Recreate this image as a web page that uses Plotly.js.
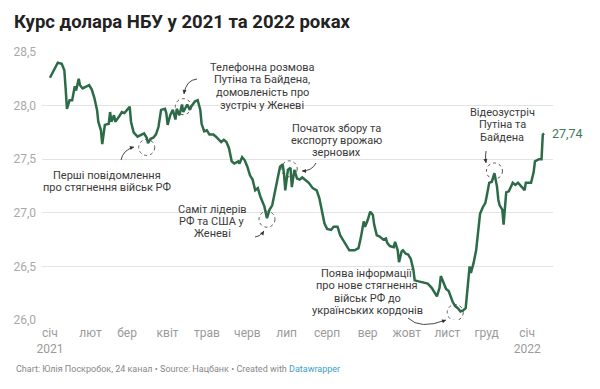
<!DOCTYPE html>
<html><head><meta charset="utf-8">
<script src="https://cdn.plot.ly/plotly-3.0.1.min.js"></script>
<style>html,body{margin:0;padding:0;background:#fff}#chart{width:600px;height:389px}</style>
</head><body><div id="chart"></div>
<script>
const dates = ['2021-01-01','2021-01-07','2021-01-10','2021-01-12','2021-01-13','2021-01-14','2021-01-16','2021-01-18','2021-01-20','2021-01-21','2021-01-23','2021-01-24','2021-01-26','2021-01-29','2021-01-31',
'2021-02-02','2021-02-04','2021-02-06','2021-02-07','2021-02-09','2021-02-10','2021-02-12','2021-02-15','2021-02-16','2021-02-17','2021-02-19','2021-02-20','2021-02-23','2021-02-25','2021-02-27',
'2021-03-01','2021-03-03','2021-03-04','2021-03-06','2021-03-09','2021-03-11','2021-03-14','2021-03-16','2021-03-17','2021-03-19','2021-03-21','2021-03-23','2021-03-25','2021-03-27','2021-03-30','2021-03-31',
'2021-04-01','2021-04-03','2021-04-05','2021-04-07','2021-04-08','2021-04-10','2021-04-12','2021-04-13','2021-04-16','2021-04-18','2021-04-19','2021-04-22','2021-04-24','2021-04-26','2021-04-27','2021-04-29',
'2021-05-01','2021-05-03','2021-05-06','2021-05-08','2021-05-10','2021-05-12','2021-05-14','2021-05-16','2021-05-18','2021-05-20','2021-05-22','2021-05-25','2021-05-26','2021-05-28','2021-05-30',
'2021-06-01','2021-06-03','2021-06-05','2021-06-07','2021-06-09','2021-06-11','2021-06-12','2021-06-14','2021-06-16','2021-06-18','2021-06-20','2021-06-22','2021-06-24','2021-06-26','2021-06-28','2021-06-29','2021-06-30',
'2021-07-02','2021-07-04','2021-07-05','2021-07-07','2021-07-09','2021-07-11','2021-07-13','2021-07-15','2021-07-18','2021-07-21','2021-07-24','2021-07-26','2021-07-28','2021-07-30',
'2021-08-01','2021-08-04','2021-08-06','2021-08-09','2021-08-11','2021-08-13','2021-08-16','2021-08-18','2021-08-22','2021-08-25','2021-08-27','2021-08-29','2021-08-30',
'2021-09-01','2021-09-03','2021-09-05','2021-09-06','2021-09-08','2021-09-10','2021-09-13','2021-09-15','2021-09-16','2021-09-18','2021-09-21','2021-09-22','2021-09-24','2021-09-25','2021-09-27','2021-09-28','2021-09-30',
'2021-10-02','2021-10-04','2021-10-06','2021-10-07','2021-10-10','2021-10-14','2021-10-17','2021-10-20','2021-10-23','2021-10-24','2021-10-26','2021-10-27','2021-10-29','2021-10-31',
'2021-11-02','2021-11-03','2021-11-05','2021-11-07','2021-11-09','2021-11-11','2021-11-13','2021-11-15','2021-11-16','2021-11-17','2021-11-18','2021-11-19','2021-11-21','2021-11-23','2021-11-25','2021-11-26','2021-11-28','2021-11-30',
'2021-12-01','2021-12-03','2021-12-05','2021-12-06','2021-12-07','2021-12-09','2021-12-10','2021-12-11','2021-12-13','2021-12-14','2021-12-15','2021-12-16','2021-12-18','2021-12-19','2021-12-21','2021-12-23','2021-12-25','2021-12-28','2021-12-30','2021-12-31',
'2022-01-04','2022-01-06','2022-01-07','2022-01-10','2022-01-12','2022-01-13','2022-01-14'];
const rates = [28.26,28.40,28.39,28.33,28.16,27.97,28.05,28.05,28.18,28.14,28.25,28.19,28.16,28.18,28.19,
28.15,28.07,27.96,27.85,27.77,27.64,27.82,27.83,27.94,27.85,27.91,27.85,27.90,27.94,27.93,
27.96,27.99,27.85,27.75,27.71,27.72,27.74,27.70,27.65,27.69,27.70,27.73,27.80,27.96,27.97,27.93,
27.82,27.91,27.96,27.87,27.97,27.91,28.01,27.94,28.01,27.96,27.99,28.04,28.05,27.96,27.83,27.76,
27.77,27.73,27.73,27.71,27.68,27.66,27.68,27.66,27.60,27.48,27.46,27.48,27.46,27.52,27.49,
27.43,27.35,27.31,27.21,27.23,27.15,27.12,27.06,26.95,27.03,27.07,27.21,27.31,27.43,27.45,27.37,27.21,
27.40,27.42,27.24,27.40,27.32,27.31,27.33,27.31,27.28,27.23,27.21,27.14,27.00,26.90,
26.85,26.84,26.87,26.87,26.79,26.75,26.70,26.65,26.65,26.67,26.78,26.92,26.87,
26.93,27.01,26.98,26.89,26.79,26.78,26.75,26.76,26.72,26.69,26.68,26.73,26.65,26.54,26.64,26.65,26.62,
26.61,26.57,26.47,26.37,26.36,26.35,26.34,26.30,26.24,26.22,26.30,26.41,26.35,26.29,
26.27,26.24,26.17,26.13,26.11,26.08,26.09,26.11,26.27,26.39,26.50,26.44,26.53,26.65,26.84,26.99,27.05,27.09,
27.15,27.28,27.29,27.34,27.37,27.24,27.12,27.07,27.03,26.89,27.06,27.19,27.20,27.23,27.28,27.26,27.28,27.24,27.21,27.28,
27.28,27.38,27.48,27.50,27.50,27.73,27.74];

const monthTicks = ['2021-01-01','2021-02-01','2021-03-01','2021-04-01','2021-05-01','2021-06-01','2021-07-01','2021-08-01','2021-09-01','2021-10-01','2021-11-01','2021-12-01','2022-01-01'];
const monthLabels = ['січ<br>2021','лют','бер','квіт','трав','черв','лип','серп','вер','жовт','лист','груд','січ<br>2022'];
const yTicks = [26.0,26.5,27.0,27.5,28.0,28.5];
const yLabels = ['26,0','26,5','27,0','27,5','28,0','28,5'];
const lastLabel = '27,74';

const titleText = 'Курс долара НБУ у 2021 та 2022 роках';
const footerText = 'Chart: Юлія Поскробок, 24 канал • Source: Нацбанк • Created with ';
const footerLink = 'Datawrapper';

const events = [
  {lines:['Перші повідомлення','про стягнення військ РФ'], cx:107, cy:175, sp:12.2, date:'2021-03-16', val:27.61,
   arrow:{t:[121,160], c:[123,150], h:[134,147]}},
  {lines:['Телефонна розмова','Путіна та Байдена,','домовленість про','зустріч у Женеві'], cx:262, cy:67, sp:12.7, date:'2021-04-13', val:27.99,
   arrow:{t:[197,79], c:[186,80], h:[184,94]}},
  {lines:['Початок збору та','експорту врожаю','зернових'], cx:336, cy:128, sp:12.2, date:'2021-07-03', val:27.41,
   arrow:{t:[316,163], c:[312,171], h:[302,171]}},
  {lines:['Саміт лідерів','РФ та США у','Женеві'], cx:212, cy:209, sp:12.2, date:'2021-06-16', val:26.94,
   arrow:{t:[255,237], c:[260,237], h:[264,231]}},
  {lines:['Поява інформації','про нове стягнення','військ РФ до','українських кордонів'], cx:367, cy:273, sp:12.6, date:'2021-11-07', val:26.07,
   arrow:{t:[408,318], c:[420,330], h:[446,320]}},
  {lines:['Відеозустріч','Путіна та','Байдена'], cx:502, cy:112.5, sp:12.5, date:'2021-12-07', val:27.39,
   arrow:{t:[486,151], c:[485,157], h:[486,163]}}
];

const L = 42, R = 553, T = 52, B = 320;
const px = x => (x - L) / (R - L);
const py = y => (B - y) / (B - T);

const annotations = [];
const shapes = [];
events.forEach(ev => {
  ev.lines.forEach((ln, i) => {
    annotations.push({xref:'paper', yref:'paper', x:px(ev.cx), y:py(ev.cy + i*ev.sp), text:ln, showarrow:false,
      xanchor:'center', yanchor:'middle', font:{family:'Roboto', size:11, color:'#3a3a3a'}});
  });
  shapes.push({type:'circle', xref:'x', yref:'y', xsizemode:'pixel', ysizemode:'pixel',
    xanchor:ev.date, yanchor:ev.val, x0:-8, x1:8, y0:-8, y1:8,
    line:{color:'#555', width:1, dash:'dot'}});
  const a = ev.arrow;
  shapes.push({type:'path', xref:'paper', yref:'paper',
    path:`M ${px(a.t[0])} ${py(a.t[1])} Q ${px(a.c[0])} ${py(a.c[1])} ${px(a.h[0])} ${py(a.h[1])}`,
    line:{color:'#333', width:0.9}});
  const dx = a.c[0]-a.h[0], dy = a.c[1]-a.h[1], n = Math.hypot(dx,dy)||1;
  annotations.push({xref:'paper', yref:'paper', x:px(a.h[0]), y:py(a.h[1]), text:'', showarrow:true,
    ax:dx/n*5, ay:dy/n*5, arrowhead:2, arrowsize:0.9, arrowwidth:0.9, arrowcolor:'#333', standoff:0});
});

annotations.push({xref:'x', yref:'y', x:dates[dates.length-1], y:rates[rates.length-1], text:lastLabel,
  showarrow:false, xanchor:'left', yanchor:'middle', xshift:6, font:{family:'Roboto', size:12.5, color:'#3d7a57'}});
annotations.push({xref:'paper', yref:'paper', x:px(14), y:py(369), xanchor:'left', yanchor:'middle', showarrow:false,
  text:footerText + '<span style="color:#3ba3c6">' + footerLink + '</span>', font:{family:'Roboto', size:9, color:'#888'}});

const trace = {x:dates, y:rates, type:'scatter', mode:'lines', line:{color:'#2c6b47', width:2.5}, hoverinfo:'skip'};

const layout = {
  width:600, height:389,
  margin:{l:L, r:600-R, t:T, b:389-B},
  paper_bgcolor:'#fff', plot_bgcolor:'#fff',
  showlegend:false,
  title:{text:'<b>'+titleText+'</b>', xref:'container', yref:'container', x:14/600, xanchor:'left', y:1-22/389, yanchor:'middle',
    font:{family:'Roboto', size:18.5, color:'#222'}},
  xaxis:{type:'date', range:['2020-12-25 22:00','2022-01-20 19:00'], tickvals:monthTicks, ticktext:monthLabels,
    showgrid:false, zeroline:false, showline:false, ticks:'', ticklabelstandoff:4,
    tickfont:{family:'Roboto', size:12, color:'#9a9a9a'}, fixedrange:true},
  yaxis:{range:[26.0,28.5], tickvals:yTicks, ticktext:yLabels, showgrid:true, gridcolor:'#e3e3e3', gridwidth:1,
    zeroline:false, showline:false, ticks:'', ticklabelstandoff:5,
    tickfont:{family:'Roboto', size:12, color:'#a8a8a8'}, fixedrange:true},
  annotations:annotations, shapes:shapes
};
Plotly.newPlot('chart', [trace], layout, {displayModeBar:false, staticPlot:true});
</script></body></html>
